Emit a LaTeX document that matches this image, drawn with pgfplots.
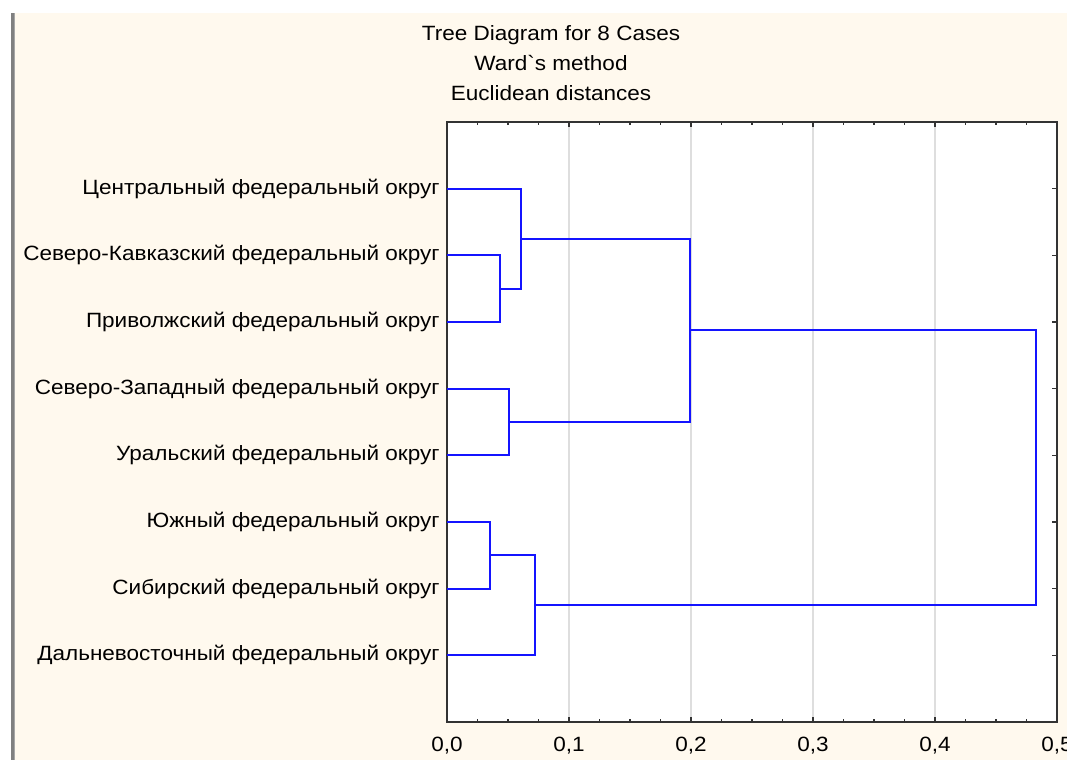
\documentclass[border=0pt]{standalone}
\usepackage{pgfplots}
\pgfplotsset{compat=1.18}
\usepackage{fontspec}
\setmainfont{Liberation Sans}[FakeStretch=1.09, Ligatures=TeXOff]
\definecolor{bg}{RGB}{255,249,238}
\definecolor{dblue}{RGB}{20,20,255}
\newcommand{\fs}{\fontsize{15.5pt}{18pt}\selectfont}
\begin{document}
\begin{tikzpicture}[x=0.75pt,y=0.75pt]
\useasboundingbox (0,0) rectangle (1067,760);
\clip (0,0) rectangle (1067,760);
\fill[white] (0,0) rectangle (1067,760);
\fill[bg] (15,0) rectangle (1067,747);
\fill[black!50] (11,0) rectangle (15,747);
\fill[black!35] (14,0) rectangle (15,747);
\node[anchor=base, font=\fs, inner sep=0pt] at (551,719) {Tree Diagram for 8 Cases};
\node[anchor=base, font=\fs, inner sep=0pt] at (551,689) {Ward`s method};
\node[anchor=base, font=\fs, inner sep=0pt] at (551,659) {Euclidean distances};
\begin{axis}[
  at={(335.25pt,28.5pt)}, anchor=south west,
  width=457.5pt, height=450pt, scale only axis,
  xmin=0, xmax=0.5, ymin=0, ymax=9, y dir=reverse,
  axis background/.style={fill=white},
  xtick={0,0.1,0.2,0.3,0.4,0.5},
  minor x tick num=3,
  xmajorgrids, major grid style={draw=black!13, line width=0.9pt},
  ytick={1,2,3,4,5,6,7,8},
  yticklabels={Центральный федеральный округ, Северо-Кавказский федеральный округ, Приволжский федеральный округ, Северо-Западный федеральный округ, Уральский федеральный округ, Южный федеральный округ, Сибирский федеральный округ, Дальневосточный федеральный округ},
  tick align=inside,
  major tick length=3.75pt, minor tick length=2.25pt,
  tick style={draw=black!80, line width=0.8pt},
  axis line style={draw=black!80, line width=1.1pt},
  /pgf/number format/assume math mode=true,
  /pgf/number format/use comma, /pgf/number format/fixed, /pgf/number format/fixed zerofill, /pgf/number format/precision=1,
  ticklabel style={font=\fs},
  yticklabel style={xshift=-2pt},
  xticklabel style={yshift=-8pt},
]
\addplot[dblue, line width=1.5pt, mark=none] coordinates {(0,2) (0.0434,2) (0.0434,3) (0,3)};
\addplot[dblue, line width=1.5pt, mark=none] coordinates {(0,1) (0.0604,1) (0.0604,2.5) (0.0434,2.5)};
\addplot[dblue, line width=1.5pt, mark=none] coordinates {(0,4) (0.0511,4) (0.0511,5) (0,5)};
\addplot[dblue, line width=1.5pt, mark=none] coordinates {(0.0604,1.75) (0.199,1.75) (0.199,4.5) (0.0511,4.5)};
\addplot[dblue, line width=1.5pt, mark=none] coordinates {(0,6) (0.0352,6) (0.0352,7) (0,7)};
\addplot[dblue, line width=1.5pt, mark=none] coordinates {(0.0352,6.5) (0.0721,6.5) (0.0721,8) (0,8)};
\addplot[dblue, line width=1.5pt, mark=none] coordinates {(0.199,3.125) (0.4825,3.125) (0.4825,7.25) (0.0721,7.25)};
\end{axis}
\end{tikzpicture}
\end{document}
